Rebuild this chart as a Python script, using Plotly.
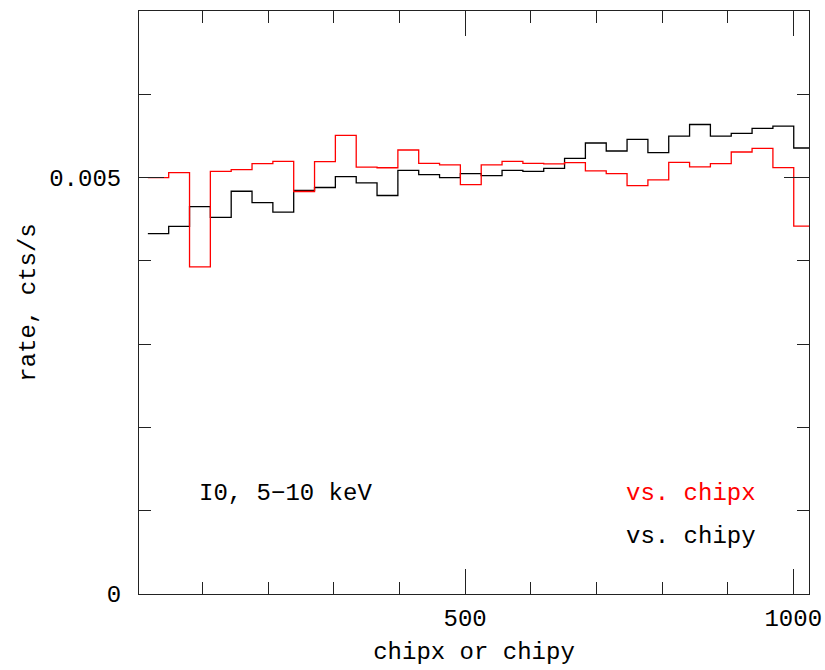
import plotly.graph_objects as go

# Count rate per bin, 32 bins across the chip
rate_vs_chipx = [
    0.005000, 0.005060, 0.003928, 0.005075, 0.005096, 0.005167, 0.005195, 0.004833,
    0.005191, 0.005506, 0.005125, 0.005118, 0.005331, 0.005171, 0.005152, 0.004916,
    0.005152, 0.005195, 0.005171, 0.005164, 0.005179, 0.005080, 0.005048, 0.004904,
    0.004972, 0.005183, 0.005128, 0.005167, 0.005307, 0.005350, 0.005120, 0.004418,
]
rate_vs_chipy = [
    0.004327, 0.004414, 0.004650, 0.004522, 0.004836, 0.004698, 0.004585, 0.004845,
    0.004881, 0.005012, 0.004937, 0.004785, 0.005087, 0.005036, 0.005000, 0.005048,
    0.005024, 0.005087, 0.005075, 0.005111, 0.005231, 0.005415, 0.005319, 0.005458,
    0.005299, 0.005498, 0.005637, 0.005498, 0.005530, 0.005590, 0.005618, 0.005355,
]

x_tick_vals = [500, 1000]
x_tick_text = ["500", "1000"]
y_tick_vals = [0, 0.005]
y_tick_text = ["0", "0.005"]

# Histogram binning
BIN_START = 16.5
BIN_WIDTH = 31.75
n_bins = len(rate_vs_chipx)
edges = [BIN_START + BIN_WIDTH * i for i in range(n_bins + 1)]


def step_xy(values):
    return edges, list(values) + [values[-1]]


FONT = "Liberation Mono"
FS = 24

fig = go.Figure()
for vals, color in ((rate_vs_chipy, "black"), (rate_vs_chipx, "#ff0000")):
    xs, ys = step_xy(vals)
    fig.add_trace(go.Scatter(
        x=xs, y=ys, mode="lines", line=dict(color=color, width=1.3, shape="hv"),
        showlegend=False, hoverinfo="skip",
    ))

axis_common = dict(
    showline=True, linecolor="#222", linewidth=1, mirror="allticks",
    ticks="inside", tickcolor="#222", tickwidth=1, showgrid=False, zeroline=False,
    tickfont=dict(family=FONT, size=FS, color="black"), automargin=False,
)

fig.update_xaxes(
    range=[3, 1024], tickmode="array", tickvals=x_tick_vals, ticktext=x_tick_text,
    ticklen=25, ticklabelstandoff=2,
    minor=dict(ticks="inside", ticklen=12, dtick=100, tick0=0, tickcolor="#222", tickwidth=1, showgrid=False),
    title=dict(text="chipx or chipy", font=dict(family=FONT, size=FS, color="black"), standoff=10),
    **axis_common,
)
fig.update_yaxes(
    range=[0, 0.007], tickmode="array", tickvals=y_tick_vals, ticktext=y_tick_text,
    ticklen=25, ticklabelstandoff=12,
    minor=dict(ticks="inside", ticklen=12, dtick=0.001, tick0=0, tickcolor="#222", tickwidth=1, showgrid=False),
    title=dict(text="rate, cts/s", font=dict(family=FONT, size=FS, color="black"), standoff=6),
    **axis_common,
)

notes = [
    ("I0, 5\u221210 keV", 0.086, 0.172, "black"),
    ("vs. chipx", 0.7245, 0.172, "#ff0000"),
    ("vs. chipy", 0.7245, 0.098, "black"),
]
for text, px, py, color in notes:
    fig.add_annotation(
        x=px, y=py, xref="paper", yref="paper", text=text, showarrow=False,
        xanchor="left", yanchor="middle",
        font=dict(family=FONT, size=FS, color=color),
    )

fig.update_layout(
    width=825, height=670,
    margin=dict(l=139, r=16, t=11, b=76),
    paper_bgcolor="white", plot_bgcolor="white",
)

fig.write_html("out.html")
